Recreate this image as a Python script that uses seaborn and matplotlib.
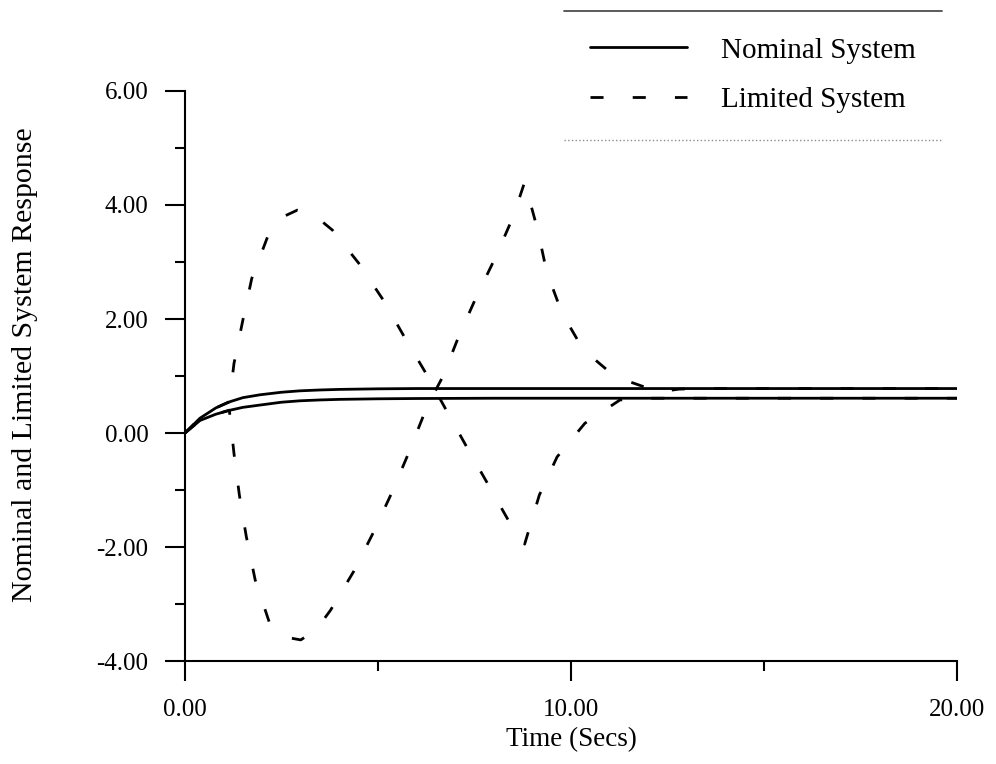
import matplotlib
matplotlib.use('Agg')
import matplotlib.pyplot as plt
import seaborn as sns
from matplotlib.lines import Line2D
from matplotlib.ticker import MultipleLocator, FormatStrFormatter

# nominal system, two states (solid)
t_nom = [0.0, 0.39, 0.8, 1.17, 1.5, 1.94, 2.5, 2.98, 3.5, 4.0, 5.0, 6.0, 8.0, 20.0]
nom_upper = [0.0, 0.26, 0.44, 0.55, 0.62, 0.67, 0.715, 0.74, 0.755, 0.765, 0.775, 0.78, 0.78, 0.78]
nom_lower = [0.0, 0.22, 0.33, 0.40, 0.45, 0.49, 0.54, 0.565, 0.58, 0.59, 0.60, 0.605, 0.61, 0.61]

# limited system, two states (dashed)
t_lim_a = [0.0, 0.39, 0.8, 1.15, 1.27, 1.50, 1.73, 2.14, 2.5, 2.91, 3.3, 3.82, 4.50, 5.14,
           5.68, 6.25, 6.77, 7.32, 7.86, 8.41, 8.8, 9.18, 9.64, 10.36, 11.27, 12.0, 20.0]
lim_a = [0.0, 0.26, 0.44, 0.55, 1.22, 1.98, 2.71, 3.44, 3.78, 3.91, 3.85, 3.56, 2.98, 2.33,
         1.69, 1.04, 0.40, -0.27, -0.91, -1.57, -1.95, -1.09, -0.42, 0.17, 0.58, 0.61, 0.61]

t_lim_b = [0.0, 0.39, 0.8, 1.15, 1.27, 1.41, 1.59, 1.82, 2.18, 2.6, 3.0, 3.4, 3.77, 4.37,
           4.87, 5.35, 5.77, 6.27, 6.68, 7.09, 7.55, 8.05, 8.50, 8.8, 9.14, 9.37, 9.77,
           10.32, 11.14, 12.27, 12.8, 13.5, 20.0]
lim_b = [0.0, 0.22, 0.33, 0.40, -0.36, -1.09, -1.82, -2.58, -3.31, -3.58, -3.63, -3.45, -3.11, -2.43,
         -1.76, -1.06, -0.39, 0.46, 0.99, 1.69, 2.39, 3.09, 3.79, 4.40, 3.56, 2.83, 2.10,
         1.46, 0.99, 0.72, 0.77, 0.78, 0.78]

sns.set_style('ticks')
plt.rcParams['font.family'] = ['Liberation Serif', 'DejaVu Serif']
plt.rcParams['text.color'] = 'black'
plt.rcParams['axes.labelcolor'] = 'black'

fig, ax = plt.subplots(figsize=(9.96, 7.64), dpi=100)
fig.subplots_adjust(left=0.1857, right=0.9608, bottom=0.1348, top=0.8809)

dash = (0, (4.7, 10.5))
sns.lineplot(x=t_nom, y=nom_upper, ax=ax, color='black', lw=2, label='Nominal System')
sns.lineplot(x=t_nom, y=nom_lower, ax=ax, color='black', lw=2)
sns.lineplot(x=t_lim_a, y=lim_a, ax=ax, color='black', lw=2, linestyle=dash,
             label='Limited System')
sns.lineplot(x=t_lim_b, y=lim_b, ax=ax, color='black', lw=2, linestyle=dash)
if ax.get_legend() is not None:
    ax.get_legend().remove()

ax.set_xlim(0, 20)
ax.set_ylim(-4, 6)
ax.xaxis.set_major_locator(MultipleLocator(10))
ax.xaxis.set_minor_locator(MultipleLocator(5))
ax.yaxis.set_major_locator(MultipleLocator(2))
ax.yaxis.set_minor_locator(MultipleLocator(1))
ax.xaxis.set_major_formatter(FormatStrFormatter('%.2f'))
ax.yaxis.set_major_formatter(FormatStrFormatter('%.2f'))

for side in ['left', 'bottom']:
    ax.spines[side].set_linewidth(1.5)
    ax.spines[side].set_color('black')
sns.despine(ax=ax)

ax.tick_params(which='major', length=14.4, width=1.5, direction='out', labelsize=18,
               colors='black')
ax.tick_params(which='minor', length=7, width=1.5, direction='out', colors='black')
ax.tick_params(axis='y', which='major', pad=12)
ax.tick_params(axis='x', which='major', pad=13)

ax.set_xlabel('Time (Secs)', fontsize=19.5, labelpad=4)
ax.set_ylabel('Nominal and Limited System Response', fontsize=21.5)
ax.yaxis.set_label_coords(-0.19, 0.52)

handles, labels = ax.get_legend_handles_labels()
leg = fig.legend(handles, labels, loc='upper left', bbox_to_anchor=(564 / 996, 1 - 11 / 764),
                 bbox_transform=fig.transFigure, fontsize=21, frameon=True, fancybox=False,
                 handlelength=3.33, handletextpad=1.14, labelspacing=0.8, borderpad=0.9,
                 borderaxespad=0)
leg.get_frame().set_edgecolor('none')
leg.get_frame().set_facecolor('none')

# legend box shows only a top rule and a faint dotted bottom rule
fig.canvas.draw()
bb = leg.get_window_extent().transformed(fig.transFigure.inverted())
fig.add_artist(Line2D([bb.x0, bb.x1], [bb.y1, bb.y1], transform=fig.transFigure,
                      color='0.3', lw=1.3))
fig.add_artist(Line2D([bb.x0, bb.x1], [bb.y0, bb.y0], transform=fig.transFigure,
                      color='0.55', lw=1.0, linestyle=':'))

fig.savefig('out.png', dpi=100)
